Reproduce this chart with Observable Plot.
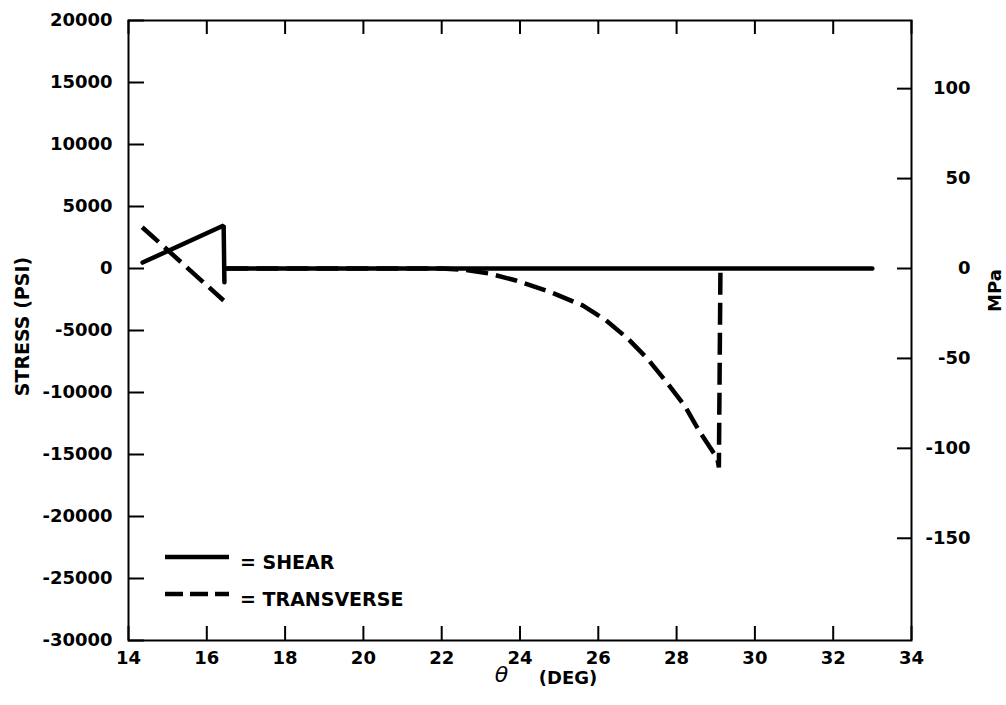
<!DOCTYPE html>
<html><head><meta charset="utf-8">
<script src="https://cdn.jsdelivr.net/npm/d3@7"></script>
<script src="https://cdn.jsdelivr.net/npm/@observablehq/plot@0.6"></script>
<style>
body{margin:0;background:#fff;}
#wrap{position:relative;width:1006px;height:705px;}
#legend{position:absolute;left:0;top:0;pointer-events:none;}
</style></head><body>
<div id="wrap"></div>
<script>
// ---- data ----
const xTicks = [14, 16, 18, 20, 22, 24, 26, 28, 30, 32, 34];
const yTicks = [20000, 15000, 10000, 5000, 0, -5000, -10000, -15000, -20000, -25000, -30000];
const mpaTicks = [100, 50, 0, -50, -100, -150];
const PSI_PER_MPA = 145.038;

const shearTheta  = [14.36, 16.43, 16.45, 16.5, 33.0];
const shearStress = [480, 3470, -1100, 0, 0];
const shearSeg    = [0, 0, 0, 1, 1];

const transTheta  = [14.35, 16.43, 16.5, 22.0, 22.6, 23.2, 23.9, 24.8, 25.6, 26.2, 26.75, 27.25, 27.75, 28.2, 28.6, 29.04, 29.08, 29.12];
const transStress = [3330, -2580, 0, 0, -100, -400, -970, -1930, -2980, -4190, -5640, -7250, -9190, -11040, -13220, -15310, -16040, 0];
const transSeg    = [0, 0, 1, 1, 1, 1, 1, 1, 1, 1, 1, 1, 1, 1, 1, 1, 1, 1];

const shear = shearTheta.map((t, i) => ({theta: t, stress: shearStress[i], seg: shearSeg[i]}));
const trans = transTheta.map((t, i) => ({theta: t, stress: transStress[i], seg: transSeg[i]}));
const mpaPsi = mpaTicks.map(v => v * PSI_PER_MPA);

// frame geometry (pixels)
const W = 1006, H = 705, ML = 128, MR = 95, MT = 20, MB = 65;
const FW = W - ML - MR, FH = H - MT - MB;

const chart = Plot.plot({
  width: W, height: H,
  marginLeft: ML, marginRight: MR, marginTop: MT, marginBottom: MB,
  style: {fontFamily: "DejaVu Sans", fontSize: "18px", fontWeight: "bold", color: "#000", background: "#fff"},
  x: {domain: [14, 34]},
  y: {domain: [-30000, 20000]},
  marks: [
    Plot.axisX({ticks: xTicks, tickSize: 0, tickPadding: 11, label: null, tickFormat: d => String(d)}),
    Plot.axisY({ticks: yTicks, tickSize: 0, tickPadding: 16, label: null, tickFormat: d => String(d)}),
    Plot.axisY({anchor: "right", ticks: mpaPsi, tickSize: 0, tickPadding: 59, textAnchor: "end", label: null,
      tickFormat: d => String(Math.round(d / PSI_PER_MPA))}),
    // inward ticks
    Plot.ruleX(xTicks, {x: d => d, insetTop: FH - 14, stroke: "#000", strokeWidth: 2}),
    Plot.ruleX(xTicks, {x: d => d, insetBottom: FH - 14, stroke: "#000", strokeWidth: 2}),
    Plot.ruleY(yTicks, {y: d => d, insetRight: FW - 16, stroke: "#000", strokeWidth: 2}),
    Plot.ruleY(mpaPsi, {y: d => d, insetLeft: FW - 14, stroke: "#000", strokeWidth: 2}),
    Plot.frame({strokeWidth: 2, stroke: "#000"}),
    Plot.line(trans, {x: "theta", y: "stress", z: "seg", stroke: "#000", strokeWidth: 4.5, strokeDasharray: "22,8", strokeLinecap: "butt", strokeLinejoin: "miter"}),
    Plot.line(shear, {x: "theta", y: "stress", z: "seg", stroke: "#000", strokeWidth: 4.5, strokeLinejoin: "miter"}),
    Plot.text(["STRESS (PSI)"], {frameAnchor: "left", textAnchor: "middle", rotate: -90, dx: -106, dy: -4, fontSize: 19, fill: "#000"}),
    Plot.text(["MPa"], {frameAnchor: "right", textAnchor: "middle", rotate: -90, dx: 84, dy: -40, fontSize: 18, fill: "#000"}),
    Plot.text(["θ"], {frameAnchor: "bottom", textAnchor: "middle", dx: -18.5, dy: 41, fontSize: 22, fontStyle: "italic", fontWeight: "normal", fill: "#000"}),
    Plot.text(["(DEG)"], {frameAnchor: "bottom", textAnchor: "middle", dx: 48, dy: 43, fontSize: 18, fill: "#000"})
  ]
});
const wrap = document.getElementById("wrap");
wrap.appendChild(chart);

// legend overlay
const ns = "http://www.w3.org/2000/svg";
const lg = document.createElementNS(ns, "svg");
lg.setAttribute("id", "legend");
lg.setAttribute("width", W);
lg.setAttribute("height", H);
const legendItems = [
  {label: "= SHEAR", dash: null, y: 557},
  {label: "= TRANSVERSE", dash: "18,7", y: 594}
];
legendItems.forEach(it => {
  const l = document.createElementNS(ns, "line");
  l.setAttribute("x1", 165); l.setAttribute("x2", 229);
  l.setAttribute("y1", it.y); l.setAttribute("y2", it.y);
  l.setAttribute("stroke", "#000"); l.setAttribute("stroke-width", 4.5);
  if (it.dash) l.setAttribute("stroke-dasharray", it.dash);
  lg.appendChild(l);
  const t = document.createElementNS(ns, "text");
  t.setAttribute("x", 240); t.setAttribute("y", it.y + 6);
  t.setAttribute("dominant-baseline", "middle");
  t.setAttribute("font-family", "DejaVu Sans");
  t.setAttribute("font-weight", "bold");
  t.setAttribute("font-size", 19);
  t.textContent = it.label;
  lg.appendChild(t);
});
wrap.appendChild(lg);
</script>
</body></html>
